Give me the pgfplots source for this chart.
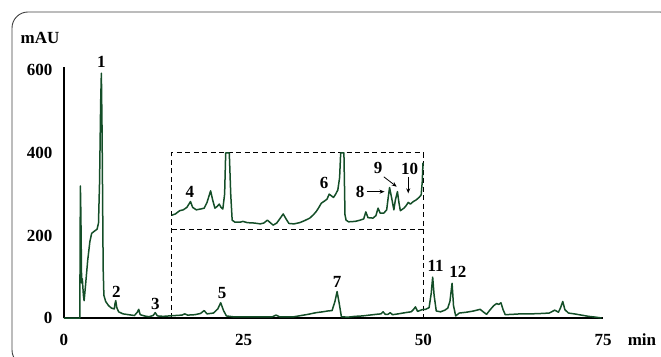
\documentclass[border=0pt]{standalone}
\usepackage{pgfplots}
\pgfplotsset{compat=1.18}
\usepackage{fontspec}
\setmainfont{Liberation Serif}
\usetikzlibrary{arrows.meta}
\definecolor{trace}{RGB}{20,78,40}
\begin{document}
\begin{tikzpicture}
\begin{axis}[
  anchor=origin,
  scale only axis, width=539pt, height=251pt,
  xmin=0, xmax=75, ymin=0, ymax=608,
  axis x line*=bottom, axis y line*=left,
  axis line style={-, line width=1.1pt, black},
  xtick={0,25,50,75}, ytick={0,200,400,600},
  major tick length=0pt,
  tick label style={font=\fontsize{17}{20}\selectfont\bfseries},
  /pgf/number format/assume math mode=true,
  xticklabel style={yshift=-12.5pt},
  yticklabel style={xshift=-8pt},
  clip=false,
]
\draw[dashed, line width=0.9pt, dash pattern=on 5pt off 3.5pt] (axis cs:15,0) -- (axis cs:15,400) -- (axis cs:50,400) -- (axis cs:50,0);
\draw[dashed, line width=0.9pt, dash pattern=on 5pt off 3.5pt] (axis cs:15,215) -- (axis cs:50,215);
\addplot[trace, line width=1.5pt, line join=round] coordinates {
(0,0) (2.2,0) (2.28,320) (2.35,250) (2.45,85) (2.55,95) (2.7,55) (2.8,42) (3.0,80) (3.3,140) (3.6,185) (3.85,205) (4.2,210) (4.6,215) (4.8,230) (4.95,330) (5.1,520) (5.2,593) (5.3,450) (5.45,120) (5.55,55) (5.8,40) (6.2,30) (6.6,24) (7.0,22) (7.1,35) (7.2,42) (7.35,25) (7.6,15) (8.2,10) (9.0,8) (9.8,6) (10.2,14) (10.4,21) (10.6,8) (11.2,5) (11.8,3) (12.4,6) (12.7,13) (13.0,5) (13.8,4) (14.6,5) (15.5,6) (16.4,7) (16.8,10) (17.2,7) (18.2,8) (19.0,11) (19.5,18) (19.9,10) (20.8,12) (21.4,22) (21.8,37) (22.2,18) (22.6,5) (23.5,3) (25,3) (27,2.5) (29,3) (29.5,7) (30,3) (32,3) (33,6) (34,9) (35.1,13) (36,15) (36.7,17) (37.3,18) (37.7,40) (38.0,64) (38.3,35) (38.6,3) (39.5,2) (40.5,4) (41.5,5) (42.5,7) (43.5,9) (44.1,10) (44.4,15) (44.7,9) (45.1,9) (45.4,13) (45.7,8) (46.5,10) (47.5,13) (48.3,15) (48.6,20) (48.9,27) (49.2,16) (49.8,20) (50.3,21) (50.8,25) (51.1,60) (51.3,99) (51.5,55) (51.8,17) (52.4,15) (53.0,19) (53.4,24) (53.7,40) (54.0,84) (54.2,30) (54.5,5) (55.0,12) (56,14) (57,17) (57.9,21) (58.4,14) (58.8,9) (59.3,20) (59.8,30) (60.2,35) (60.5,33) (60.8,37) (61.1,20) (61.4,8) (62.5,9) (63.5,10) (65,10) (66.5,11) (67.5,12) (68.3,19) (68.8,14) (69.1,25) (69.4,40) (69.7,20) (70.2,12) (71,10) (72,7) (73,4) (74,2) (74.8,0)
};
\addplot[trace, line width=1.5pt, line join=round] coordinates {
(15,249) (15.5,252) (16.1,260) (16.6,262) (17.1,268) (17.6,282) (17.9,268) (18.4,262) (19.0,264) (19.5,266) (19.9,280) (20.4,308) (20.7,285) (21.0,266) (21.3,270) (21.6,276) (21.85,268) (22.1,264) (22.35,300) (22.5,400) (23.0,400) (23.2,300) (23.4,237) (23.8,232) (24.5,232) (24.9,234) (25.5,231) (26.5,230) (27.3,228) (27.8,230) (28.3,237) (28.7,231) (29.1,225) (29.6,230) (30.1,242) (30.5,252) (30.9,240) (31.3,229) (32,228) (32.8,231) (33.5,236) (34.2,242) (34.7,250) (35.1,258) (35.4,266) (35.8,278) (36.3,284) (36.6,288) (36.9,300) (37.2,296) (37.5,292) (37.8,300) (38.1,310) (38.35,340) (38.5,400) (38.95,400) (39.1,250) (39.25,237) (39.6,233) (40.5,234) (41.2,237) (41.7,240) (42.0,257) (42.3,243) (43.0,242) (43.4,248) (43.7,266) (44.0,254) (44.5,254) (44.9,262) (45.1,290) (45.3,316) (45.6,290) (45.9,262) (46.1,285) (46.4,306) (46.6,280) (46.8,260) (47.3,266) (47.6,272) (47.9,280) (48.2,276) (48.6,282) (49.0,286) (49.4,292) (49.7,298) (49.85,330) (49.95,375) (50,372)
};
\begin{scope}[every node/.style={font=\fontsize{17}{20}\selectfont\bfseries, inner sep=0pt}]
\node at (axis cs:5.2,620) {1};
\node at (axis cs:7.3,64) {2};
\node at (axis cs:12.7,34) {3};
\node at (axis cs:17.5,306) {4};
\node at (axis cs:22.0,61) {5};
\node at (axis cs:36.2,326) {6};
\node at (axis cs:38.0,88) {7};
\node at (axis cs:41.2,306) {8};
\node at (axis cs:43.7,363) {9};
\node at (axis cs:48.1,360) {10};
\node at (axis cs:51.7,126) {11};
\node at (axis cs:54.8,112) {12};
\end{scope}
\draw[-{Stealth[length=5pt,width=4pt]}, line width=0.8pt] (axis cs:42.1,306) -- (axis cs:44.6,306);
\draw[-{Stealth[length=5pt,width=4pt]}, line width=0.8pt] (axis cs:44.5,342) -- (axis cs:46.3,318);
\draw[-{Stealth[length=5pt,width=4pt]}, line width=0.8pt] (axis cs:47.9,342) -- (axis cs:47.9,302);
\end{axis}
\begin{scope}[x=1pt,y=1pt]
\node[font=\fontsize{17}{20}\selectfont\bfseries] at (-24,280) {mAU};
\node[font=\fontsize{17}{20}\selectfont\bfseries] at (578,-22) {min};
\draw[overlay, rounded corners=16pt, line width=0.9pt, black!75] (-52,-48) rectangle (612,306);
\useasboundingbox (-64,-38) rectangle (597,318);
\end{scope}
\end{tikzpicture}
\end{document}
